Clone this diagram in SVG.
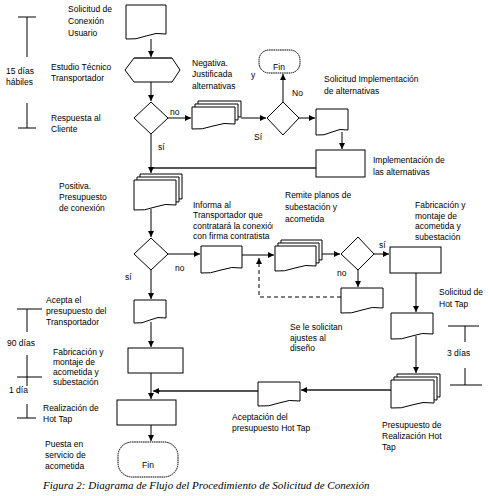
<svg xmlns="http://www.w3.org/2000/svg" width="491" height="496" viewBox="0 0 491 496">
<style>
.t{font-family:"Liberation Sans",Arial,sans-serif;font-size:8.5px;fill:#000}
.c{text-anchor:middle}
.cap{font-family:"Liberation Serif","Times New Roman",serif;font-style:italic;font-size:11px;fill:#000}
.s{fill:#fff;stroke:#000;stroke-width:1}
.term{fill:#fff;stroke:#000;stroke-width:1;stroke-dasharray:1.6 0.6}
.ln{fill:none;stroke:#000;stroke-width:1}
.g{fill:none;stroke:#555;stroke-width:2}
.d{fill:none;stroke:#000;stroke-width:1;stroke-dasharray:4 3}
</style>
<defs>
<marker id="ar" markerWidth="7" markerHeight="7" refX="6" refY="3" orient="auto" markerUnits="userSpaceOnUse">
<path d="M0,0 L6,3 L0,6 z" fill="#000"/>
</marker>
<clipPath id="clipInf"><rect x="190" y="200" width="83" height="45"/></clipPath>
</defs>
<rect width="491" height="496" fill="#fff"/>

<g id="timeline">
<path class="ln" d="M18,17H36M27,17V57M27,103V128M18,128H36"/>
<path class="ln" d="M17,309H42M27,309V332M27,355V386M17,377H42M27,404V418M17,418H36"/>
<path class="ln" d="M448,326H479M465,326V342M465,368V385M450,385H482"/>
</g>

<g id="connectors">
<path class="ln" d="M151,39V57" marker-end="url(#ar)"/>
<path class="ln" d="M151,82V101" marker-end="url(#ar)"/>
<path class="ln" d="M168,118H191" marker-end="url(#ar)"/>
<path class="ln" d="M241,118H266" marker-end="url(#ar)"/>
<path class="ln" d="M283,102V74" marker-end="url(#ar)"/>
<path class="ln" d="M299,118H315" marker-end="url(#ar)"/>
<path class="ln" d="M342,132V149" marker-end="url(#ar)"/>
<path class="g" d="M316,168H151"/>
<path class="ln" d="M151,134V173" marker-end="url(#ar)"/>
<path class="ln" d="M151,209V237" marker-end="url(#ar)"/>
<path class="ln" d="M168,254H200" marker-end="url(#ar)"/>
<path class="ln" d="M151,270V299" marker-end="url(#ar)"/>
<path class="ln" d="M242,255H274" marker-end="url(#ar)"/>
<path class="d" d="M341,297H259V258" marker-end="url(#ar)"/>
<path class="ln" d="M322,254H340" marker-end="url(#ar)"/>
<path class="ln" d="M374,254H389" marker-end="url(#ar)"/>
<path class="ln" d="M358,270V287" marker-end="url(#ar)"/>
<path class="ln" d="M416,273V312" marker-end="url(#ar)"/>
<path class="ln" d="M416,336V373" marker-end="url(#ar)"/>
<path class="g" d="M391,390H304"/>
<path class="ln" d="M304,390H301" marker-end="url(#ar)"/>
<path class="g" d="M258,391H158"/>
<path class="ln" d="M160,391H153" marker-end="url(#ar)"/>
<path class="ln" d="M151,322V347" marker-end="url(#ar)"/>
<path class="ln" d="M151,373V399" marker-end="url(#ar)"/>
<path class="ln" d="M151,425V441" marker-end="url(#ar)"/>
</g>

<g id="n_solicitud">
<path class="s" d="M126,5H166V34Q156,32 146,36T126,39Z"/>
<text class="t" x="68" y="12">Solicitud de</text>
<text class="t" x="68" y="24">Conexión</text>
<text class="t" x="68" y="36">Usuario</text>
</g>

<g id="n_estudio">
<polygon class="s" points="125,70 134,58 172,58 180,70 172,82 134,82"/>
<path class="g" d="M134,58H172"/>
<text class="t" x="51" y="70">Estudio Técnico</text>
<text class="t" x="51" y="81">Transportador</text>
<text class="t" x="6" y="74">15 días</text>
<text class="t" x="6" y="85">hábiles</text>
</g>

<g id="n_respuesta">
<polygon class="s" points="151,102 168,118 151,134 134,118"/>
<text class="t" x="51" y="121">Respuesta al</text>
<text class="t" x="51" y="132">Cliente</text>
<text class="t" x="170" y="115">no</text>
<text class="t" x="158" y="150">sí</text>
</g>

<g id="n_negativa">
<path class="s" d="M198,101H241V117Q230,115 219,119T198,122Z"/>
<path class="s" d="M195,104H238V120Q227,118 216,122T195,125Z"/>
<path class="s" d="M192,107H235V124Q224,122 213,126T192,129Z"/>
<text class="t" x="192" y="66">Negativa.</text>
<text class="t" x="192" y="77">Justificada</text>
<text class="t" x="192" y="89">alternativas</text>
<text class="t" x="251" y="78">y</text>
</g>

<g id="n_fin_top">
<rect class="term" x="259" y="50" width="41" height="23" rx="10" ry="10"/>
<text class="t c" x="279" y="70">Fin</text>
</g>

<g id="n_decision2">
<polygon class="s" points="283,102 299,118 283,135 267,118"/>
<text class="t" x="292" y="96">No</text>
<text class="t" x="254" y="140">Sí</text>
</g>

<g id="n_sol_impl">
<path class="s" d="M316,109H348V130Q340,128 332,132T316,135Z"/>
<text class="t" x="324" y="82">Solicitud Implementación</text>
<text class="t" x="324" y="94">de alternativas</text>
</g>

<g id="n_impl">
<rect class="s" x="316" y="150" width="49" height="27"/>
<text class="t" x="373" y="163">Implementación de</text>
<text class="t" x="373" y="175">las alternativas</text>
</g>

<g id="n_positiva">
<path class="s" d="M140,174H182V199Q171,197 161,201T140,204Z"/>
<path class="s" d="M137,177H179V202Q168,200 158,204T137,207Z"/>
<path class="s" d="M134,180H176V205Q165,203 155,207T134,210Z"/>
<text class="t" x="59" y="189">Positiva.</text>
<text class="t" x="59" y="200">Presupuesto</text>
<text class="t" x="59" y="211">de conexión</text>
</g>

<g id="n_decision3">
<polygon class="s" points="151,238 168,254 151,270 134,254"/>
<text class="t" x="175" y="271">no</text>
<text class="t" x="125" y="280">sí</text>
</g>

<g id="n_informa">
<path class="s" d="M201,246H242V268Q232,266 221,270T201,273Z"/>
<text class="t" x="193" y="208">Informa al</text>
<text class="t" x="193" y="218">Transportador que</text>
<text class="t" x="193" y="229" clip-path="url(#clipInf)">contratará la conexión</text>
<text class="t" x="193" y="239">con firma contratista</text>
</g>

<g id="n_remite">
<path class="s" d="M281,240H322V260Q312,258 301,262T281,265Z"/>
<path class="s" d="M278,243H319V263Q309,261 298,265T278,268Z"/>
<path class="s" d="M275,246H316V266Q306,264 295,268T275,271Z"/>
<text class="t" x="285" y="198">Remite planos de</text>
<text class="t" x="285" y="210">subestación  y</text>
<text class="t" x="285" y="222">acometida</text>
</g>

<g id="n_decision4">
<polygon class="s" points="358,237 374,254 358,270 341,254"/>
<text class="t" x="379" y="248">sí</text>
<text class="t" x="337" y="276">no</text>
</g>

<g id="n_ajustes">
<path class="s" d="M341,288H383V308Q372,306 362,310T341,313Z"/>
<text class="t" x="290" y="330">Se le solicitan</text>
<text class="t" x="290" y="341">ajustes al</text>
<text class="t" x="290" y="351">diseño</text>
</g>

<g id="n_fab_right">
<rect class="s" x="390" y="247" width="51" height="26"/>
<text class="t" x="415" y="208">Fabricación y</text>
<text class="t" x="415" y="219">montaje de</text>
<text class="t" x="415" y="229">acometida y</text>
<text class="t" x="415" y="240">subestación</text>
</g>

<g id="n_sol_hottap">
<path class="s" d="M391,313H433V334Q422,332 412,336T391,339Z"/>
<text class="t" x="439" y="295">Solicitud de</text>
<text class="t" x="439" y="307">Hot Tap</text>
<text class="t" x="447" y="356">3 días</text>
</g>

<g id="n_presupuesto_ht">
<path class="s" d="M397,374H440V397Q429,395 418,399T397,402Z"/>
<path class="s" d="M394,377H437V400Q426,398 415,402T394,405Z"/>
<path class="s" d="M391,380H434V403Q423,401 412,405T391,408Z"/>
<text class="t" x="382" y="428">Presupuesto de</text>
<text class="t" x="382" y="439">Realización Hot</text>
<text class="t" x="382" y="450">Tap</text>
</g>

<g id="n_aceptacion">
<path class="s" d="M258,382H300V401Q289,399 279,403T258,406Z"/>
<text class="t" x="232" y="420">Aceptación del</text>
<text class="t" x="232" y="431">presupuesto Hot Tap</text>
</g>

<g id="n_acepta">
<path class="s" d="M134,300H166V318Q158,316 150,320T134,323Z"/>
<text class="t" x="46" y="303">Acepta el</text>
<text class="t" x="46" y="314">presupuesto del</text>
<text class="t" x="46" y="325">Transportador</text>
<text class="t" x="7" y="346">90 días</text>
</g>

<g id="n_fab_left">
<rect class="s" x="128" y="348" width="55" height="25"/>
<text class="t" x="53" y="355">Fabricación y</text>
<text class="t" x="53" y="365">montaje de</text>
<text class="t" x="53" y="375">acometida y</text>
<text class="t" x="53" y="385">subestación</text>
<text class="t" x="9" y="393">1 día</text>
</g>

<g id="n_realizacion">
<rect class="s" x="117" y="400" width="59" height="25"/>
<text class="t" x="43" y="411">Realización de</text>
<text class="t" x="43" y="422">Hot Tap</text>
</g>

<g id="n_fin_bottom">
<rect class="term" x="118" y="442" width="60" height="35" rx="14" ry="14"/>
<text class="t c" x="148" y="468">Fin</text>
<text class="t" x="45" y="447">Puesta en</text>
<text class="t" x="45" y="458">servicio de</text>
<text class="t" x="45" y="469">acometida</text>
</g>

<text class="cap" x="43" y="489">Figura 2: Diagrama de Flujo del Procedimiento de Solicitud de Conexión</text>
</svg>
